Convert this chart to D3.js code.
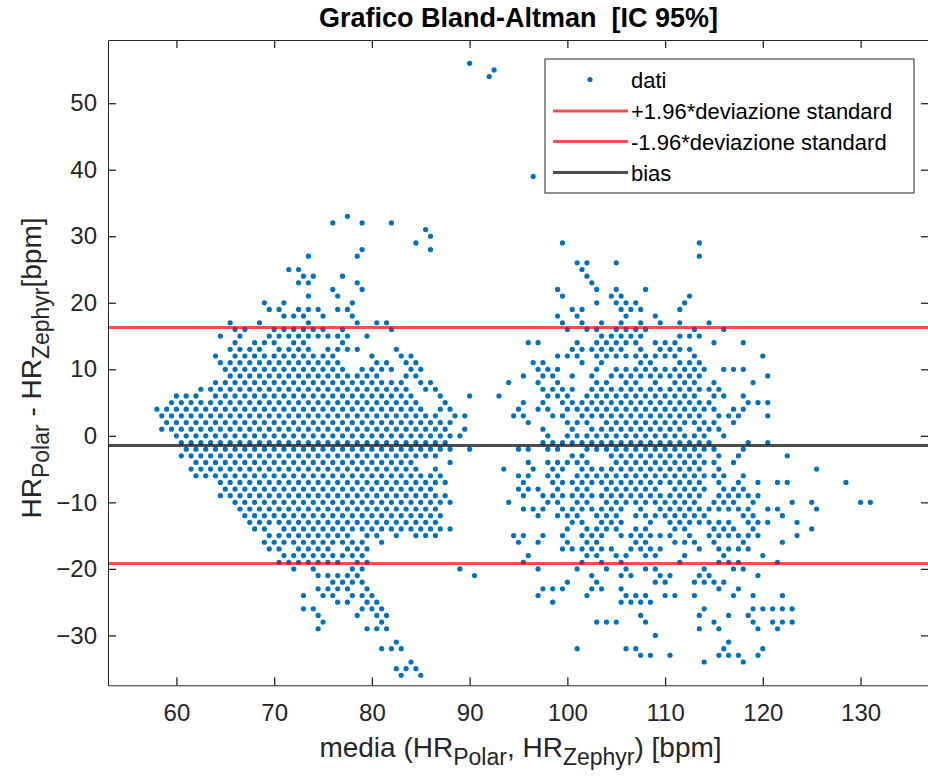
<!DOCTYPE html>
<head>
  <meta charset="utf-8">
  <style>
    body { margin: 0; background: #fff; }
    svg text { font-family: Arial, "Liberation Sans", sans-serif; fill: #262626; white-space: pre; }
    svg .tick text { font-size: 24px; }
    svg .domain { stroke: #262626; stroke-width: 1px; }
    svg .tick line { stroke: #262626; stroke-width: 1.3px; }
  </style>
</head>
<body>
<script src="https://d3js.org/d3.v7.min.js"></script>
<script>
  // data: each row is [difference, "means"], "a-b" = every mean from a to b in steps of 1
  var rowsLeft = [
    [33, "77.5"], [32, "76 79 82"], [31, "85.5"], [30, "86"], [29, "84.5"], [28, "79 86"],
    [27, "73.5 78.5"], [25, "71.5 72.5"], [24, "73 74 77"], [23, "72.5 73.5 78.5"], [22, "76 79"],
    [21, "73.5 76.5"], [20, "69 71 78"], [19, "69.5 70.5 72.5 73.5 74.5 76.5 77.5"],
    [18, "71 72 73 75 78"], [17, "65.5 68.5 73.5 78.5 80.5 81.5"], [16, "66 67 70-75 77 82"],
    [15, "64.5 66.5 69.5-77.5 79.5"], [14, "66 68-70 72 73 77"],
    [13, "65.5-68.5 70.5-73.5 75.5-78.5 82.5"], [12, "64 66-76 80 83 84"],
    [11, "64.5-76.5 80.5 81.5 83.5 84.5"], [10, "65-77 79-82 84 85"], [9, "65.5-80.5 83.5 84.5"],
    [8, "64-83 85 86"], [7, "62.5-83.5 85.5 86.5"], [6, "60-62 64-84 87"], [5, "59.5-84.5 87.5"],
    [4, "58-85 87 88"], [3, "58.5-86.5 88.5 89.5"], [2, "59-88"], [1, "58.5-87.5 89.5"],
    [0, "60-89"], [-1, "60.5-87.5"], [-2, "61-88 90"], [-3, "60.5-86.5"], [-4, "62-84 88"],
    [-5, "61.5-84.5 86.5"], [-6, "62-87"], [-7, "64.5-87.5"], [-8, "65-86"], [-9, "64.5-87.5"],
    [-10, "66-88"], [-11, "66.5-86.5"], [-12, "67-87"], [-13, "67.5-86.5"], [-14, "68 69 71-88"],
    [-15, "69.5-77.5 79.5 80.5 82.5 84.5 85.5 86.5"], [-16, "69-79 81"],
    [-17, "69.5 70.5 72.5-75.5 77.5-79.5"], [-18, "71-79"], [-19, "70.5-76.5 78.5 79.5"],
    [-20, "72 74 78 79 89"], [-21, "74.5-78.5 90.5"], [-22, "76-79"], [-23, "74.5-77.5 79.5"],
    [-24, "73 75 76 78-80"], [-25, "76.5 77.5 79.5 80.5"], [-26, "73 74 79-81"],
    [-27, "74.5 78.5 80.5 81.5"], [-28, "75 81"], [-29, "74.5 79.5-81.5"], [-31, "82.5"],
    [-32, "81-83"], [-34, "84"], [-35, "82.5-84.5"], [-36, "83 85"]
  ];

  var rowsRight = [
    [29, "99.5 113.5"], [27, "113.5"], [26, "101 102 105"], [25, "101.5"], [24, "102"], [23, "102.5"],
    [22, "99 103 105 108"], [21, "99.5 104.5 105.5 112.5"], [20, "103 105-107 112"],
    [19, "100.5 101.5 105.5-107.5 111.5"], [18, "99 101 106 109"],
    [17, "99.5 101.5 103.5 105.5 107.5 109.5 111.5 114.5"], [16, "100 102 103 105-108 113 116"],
    [15, "103.5-107.5 111.5-113.5"], [14, "96 97 101 103-107 109-111 115 118"],
    [13, "100.5-105.5 107.5 109.5-112.5"], [12, "99-101 103-111 113 120"],
    [11, "96.5 97.5 101.5 103.5 107.5 108.5 111.5-113.5"], [10, "97-99 103 105-114 116-118"],
    [9, "95.5 97.5 98.5 100.5 102.5 104.5-113.5 120.5"],
    [8, "94 97 99 103 104 106 107 109 111-113 115 119"], [7, "97.5-100.5 102.5-115.5"],
    [6, "90 93 98-100 102-113 115 116 118"], [5, "95.5 97.5 99.5-114.5 118.5-120.5"],
    [4, "95 97 98 100-115 117 118"], [3, "94.5 95.5 98.5 99.5 101.5-113.5 115.5-117.5 120.5"],
    [2, "96 100-102 104-115 117"], [1, "97.5 100.5 102.5-111.5 113.5-115.5"],
    [0, "98 100-114 116"], [-1, "97.5-114.5 118.5 120.5"], [-2, "95 96 98 99 102-115 118"],
    [-3, "100.5 101.5 104.5-113.5 115.5 117.5 122.5"], [-4, "96 98-102 105-115 117"],
    [-5, "93.5 96.5 98.5 99.5 101.5-113.5 115.5 125.5"], [-6, "95 96 98 99 101-116 118"],
    [-7, "95.5 98.5-113.5 115.5 117.5 119.5 121.5 122.5 128.5"],
    [-8, "95-97 99 101 102 104-109 111-114 116-118"], [-9, "95.5 97.5-113.5 115.5-119.5"],
    [-10, "94 98 99 101 102 104-113 115-117 119 123 125 130 131"],
    [-11, "95.5-97.5 99.5-105.5 107.5 109.5-118.5 120.5 121.5 125.5"],
    [-12, "97 99-101 103-105 107-114 118 119 122"],
    [-13, "100.5 101.5 103.5-105.5 108.5 110.5-116.5 118.5-120.5 123.5"],
    [-14, "100 102-105 107 108 111 112 115-117 119 125"],
    [-15, "94.5 95.5 97.5 99.5 101.5-103.5 105.5-110.5 112.5 114.5-119.5 123.5"],
    [-16, "95 97 100 102 103 107 108 111-113 115 118 122"],
    [-17, "99.5-104.5 106.5-109.5 113.5 115.5-118.5"], [-18, "96 102 103 105 106 108 109 112 116 120"],
    [-19, "95.5 101.5 103.5 105.5 111.5 115.5-117.5 121.5"], [-20, "97 101 104 106 108 109 114 117 118"],
    [-21, "102.5 105.5 106.5 109.5 110.5 113.5 114.5 119.5"], [-22, "100 103 109 110 113-116"],
    [-23, "97.5-99.5 102.5 103.5 105.5 115.5 117.5"], [-24, "97 102 106-108 110 111 113 117 119 122"],
    [-25, "98.5 105.5-108.5"], [-26, "114 119-123"], [-27, "107.5 113.5 116.5 118.5"],
    [-28, "103-105 108 115 119 121-123"], [-29, "113.5 115.5 119.5 121.5"], [-30, "109"],
    [-31, "116.5"], [-32, "101 106 107 116 120"], [-33, "107.5 108.5 110.5 115.5-117.5 119.5"],
    [-34, "114 118"]
  ];

  var outliers = [[90, 56], [92.5, 55], [92, 54], [96.5, 39]];   // [mean, difference]

  var bias = -1.45;
  var upperLoA = 16.3;
  var lowerLoA = -19.2;

  var xTicks = [60, 70, 80, 90, 100, 110, 120, 130];
  var yTicks = [-30, -20, -10, 0, 10, 20, 30, 40, 50];
  var legendLabels = ["dati", "+1.96*deviazione standard", "-1.96*deviazione standard", "bias"];

  // plot box in pixels
  var box = { left: 108, right: 929, top: 40, bottom: 685.3 };
  var width = box.right - box.left,
      height = box.bottom - box.top;

  function expand(rows) {
    var pts = [];
    rows.forEach(function (r) {
      r[1].split(" ").forEach(function (tok) {
        var ab = tok.split("-");
        var a = +ab[0], b = ab.length > 1 ? +ab[1] : a;
        for (var x = a; x <= b + 1e-9; x += 1) pts.push({ x: x, y: r[0] });
      });
    });
    return pts;
  }

  var points = expand(rowsLeft).concat(expand(rowsRight))
    .concat(outliers.map(function (d) { return { x: d[0], y: d[1] }; }));

  var svg = d3.select("body")
    .append("svg")
      .attr("width", 928)
      .attr("height", 776);

  var g = svg.append("g")
      .attr("transform", "translate(" + box.left + "," + box.top + ")");

  var xScale = d3.scaleLinear().domain([53, 137]).range([0, width]);
  var yScale = d3.scaleLinear().domain([-37.5, 59.5]).range([height, 0]);

  g.append("clipPath")
      .attr("id", "clip")
    .append("rect")
      .attr("width", width)
      .attr("height", height);

  var plot = g.append("g").attr("clip-path", "url(#clip)");

  // scatter
  plot.selectAll("circle.dot")
    .data(points)
    .enter().append("circle")
      .attr("class", "dot")
      .attr("cx", function (d) { return xScale(d.x); })
      .attr("cy", function (d) { return yScale(d.y); })
      .attr("r", 2.6)
      .style("fill", "#0072BD");

  // limits of agreement and bias (drawn semi transparent like matlab)
  var hlines = [
    { v: upperLoA, c: "#FF0000" },
    { v: lowerLoA, c: "#FF0000" },
    { v: bias, c: "#000000" }
  ];
  plot.selectAll("line.hl")
    .data(hlines)
    .enter().append("line")
      .attr("class", "hl")
      .attr("x1", 0)
      .attr("x2", width)
      .attr("y1", function (d) { return yScale(d.v); })
      .attr("y2", function (d) { return yScale(d.v); })
      .style("stroke", function (d) { return d.c; })
      .style("stroke-opacity", 0.7)
      .style("stroke-width", "3px");

  // axes, ticks pointing inside
  g.append("g")
      .attr("transform", "translate(0," + height + ")")
      .call(d3.axisBottom(xScale).tickValues(xTicks).tickSizeInner(-8).tickSizeOuter(0).tickPadding(19));

  g.append("g")
      .call(d3.axisTop(xScale).tickValues(xTicks).tickSizeInner(-8).tickSizeOuter(0).tickFormat(""));

  g.append("g")
      .call(d3.axisLeft(yScale).tickValues(yTicks).tickSizeInner(-8).tickSizeOuter(0).tickPadding(11));

  g.append("g")
      .attr("transform", "translate(" + width + ",0)")
      .call(d3.axisRight(yScale).tickValues(yTicks).tickSizeInner(-8).tickSizeOuter(0).tickFormat(""));

  svg.selectAll(".tick text").style("fill", "#262626");

  // title (two spaces kept)
  svg.append("text")
      .attr("x", (box.left + box.right) / 2)
      .attr("y", 27)
      .style("text-anchor", "middle")
      .style("font-size", "27px")
      .style("font-weight", "bold")
      .style("fill", "#000")
      .text("Grafico Bland-Altman  [IC 95%]");

  // x label with subscripts
  var xl = svg.append("text")
      .attr("x", (box.left + box.right) / 2 + 2)
      .attr("y", 757)
      .style("text-anchor", "middle")
      .style("font-size", "28px");
  xl.append("tspan").text("media (HR");
  xl.append("tspan").attr("dy", 8).style("font-size", "23px").text("Polar");
  xl.append("tspan").attr("dy", -8).text(", HR");
  xl.append("tspan").attr("dy", 8).style("font-size", "23px").text("Zephyr");
  xl.append("tspan").attr("dy", -8).text(") [bpm]");

  // y label with subscripts
  var yl = svg.append("text")
      .attr("transform", "translate(41,368) rotate(-90)")
      .style("text-anchor", "middle")
      .style("font-size", "28px");
  yl.append("tspan").text("HR");
  yl.append("tspan").attr("dy", 8).style("font-size", "23px").text("Polar");
  yl.append("tspan").attr("dy", -8).text(" - HR");
  yl.append("tspan").attr("dy", 8).style("font-size", "23px").text("Zephyr");
  yl.append("tspan").attr("dy", -8).text("[bpm]");

  // legend
  var leg = svg.append("g").attr("transform", "translate(545,59)");
  leg.append("rect")
      .attr("width", 369)
      .attr("height", 134)
      .style("fill", "#fff")
      .style("stroke", "#262626")
      .style("stroke-width", "1px");

  var rowY = [20.5, 52, 82.5, 113.5];
  leg.append("circle")
      .attr("cx", 45)
      .attr("cy", rowY[0])
      .attr("r", 2.6)
      .style("fill", "#0072BD");
  hlines.forEach(function (d, i) {
    leg.append("line")
        .attr("x1", 8)
        .attr("x2", 83)
        .attr("y1", rowY[i + 1])
        .attr("y2", rowY[i + 1])
        .style("stroke", d.c)
        .style("stroke-opacity", 0.7)
        .style("stroke-width", "3px");
  });
  leg.selectAll("text.lab")
    .data(legendLabels)
    .enter().append("text")
      .attr("class", "lab")
      .attr("x", 86)
      .attr("y", function (d, i) { return rowY[i] + 8; })
      .style("font-size", "22px")
      .style("fill", "#000")
      .text(function (d) { return d; });
</script>
</body>
</html>
